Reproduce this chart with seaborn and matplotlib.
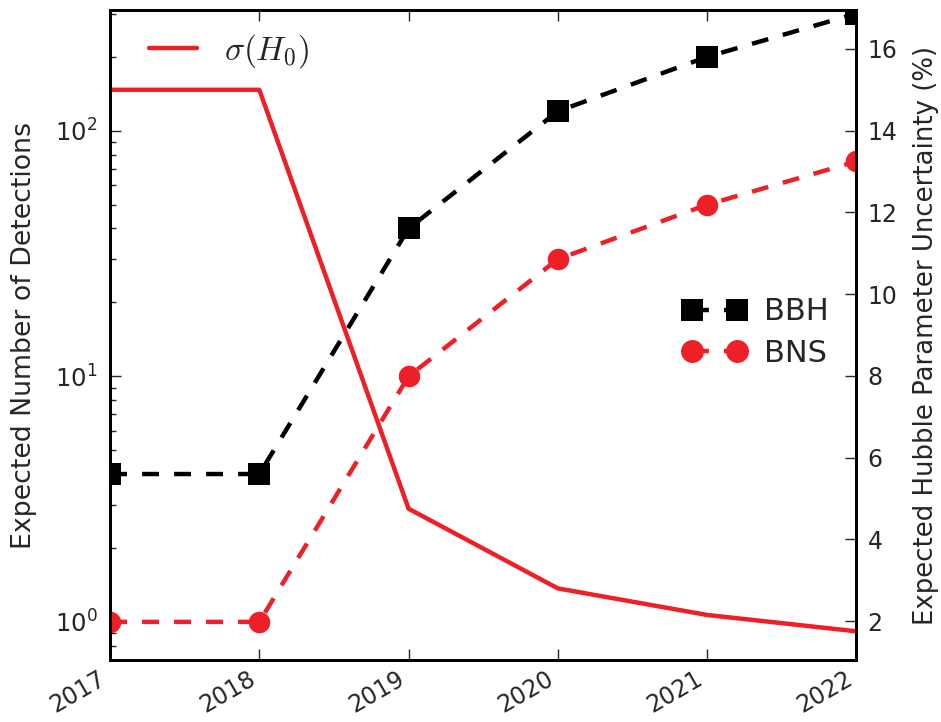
import matplotlib
matplotlib.use("Agg")
import matplotlib.pyplot as plt
import seaborn as sns
import numpy as np
from matplotlib.lines import Line2D
from matplotlib.font_manager import FontProperties

years = [2017, 2018, 2019, 2020, 2021, 2022]
bbh = [4, 4, 40, 120, 200, 300]
bns = [1, 1, 10, 30, 50, 75]
sigma_h0 = [15.0, 15.0, 4.75, 2.8, 2.15, 1.75]
year_labels = ["2017", "2018", "2019", "2020", "2021", "2022"]

sns.set_theme(style="ticks")
plt.rcParams['font.family'] = ['DejaVu Sans']
plt.rcParams['mathtext.fontset'] = 'dejavusans'

RED = '#ee1f26'
DASH = (0, (3.8, 3.4))
LW = 3.2
fig = plt.figure(figsize=(9.41, 7.22), dpi=100)
ax = fig.add_axes([0.117, 0.086, 0.793, 0.9])

sns.lineplot(x=years, y=bbh, ax=ax, color='black', marker='s', markersize=15.5,
             markeredgewidth=0, linewidth=LW)
sns.lineplot(x=years, y=bns, ax=ax, color=RED, marker='o', markersize=15.5,
             markeredgewidth=0, linewidth=LW)
for ln in ax.lines:
    ln.set_linestyle(DASH)

ax.set_yscale('log')
ax.set_xlim(2017, 2022)
ax.set_ylim(0.7, 310)
ax.set_xticks(years)
ax.set_xticklabels(year_labels, rotation=30, ha='right', fontsize=17)
ax.set_ylabel("Expected Number of Detections", fontsize=19.3, labelpad=13)
ax.tick_params(axis='x', which='both', direction='in', top=True, bottom=True,
               length=8, width=1, pad=5, labelsize=17)
ax.tick_params(axis='y', which='major', direction='in', left=True, right=False,
               length=8, width=1, labelsize=17.5, pad=9)
ax.tick_params(axis='y', which='minor', direction='in', left=True, right=False,
               length=4, width=1)

ax2 = ax.twinx()
sns.lineplot(x=years, y=sigma_h0, ax=ax2, color=RED, linewidth=LW)
ax2.set_ylim(1.05, 16.95)
ax2.set_yticks([2, 4, 6, 8, 10, 12, 14, 16])
ax2.set_ylabel("Expected Hubble Parameter Uncertainty (%)", fontsize=18.7,
               labelpad=11)
ax2.tick_params(axis='y', which='both', direction='in', right=True, left=False,
                length=8, width=1, labelsize=17, pad=8)

for a in (ax, ax2):
    for s in a.spines.values():
        s.set_linewidth(2)
        s.set_color('black')

h1 = [Line2D([], [], color=RED, lw=LW)]
leg1 = ax2.legend(h1, [r'$\sigma(H_0)$'], loc='upper left', frameon=False,
                  prop=FontProperties(size=24, math_fontfamily='cm'),
                  bbox_to_anchor=(0.034, 0.986), handlelength=1.45,
                  borderaxespad=0)
ax2.add_artist(leg1)
h2 = [Line2D([], [], color='black', marker='s', markersize=16.5, markeredgewidth=0,
             lw=LW, linestyle=DASH),
      Line2D([], [], color=RED, marker='o', markersize=16.5, markeredgewidth=0,
             lw=LW, linestyle=DASH)]
ax2.legend(h2, ['BBH', 'BNS'], loc='center right', frameon=False, fontsize=22,
           numpoints=2, handlelength=2.07, handletextpad=0.6,
           bbox_to_anchor=(1.0, 0.504), labelspacing=0.4)

fig.savefig("out.png", dpi=100)
